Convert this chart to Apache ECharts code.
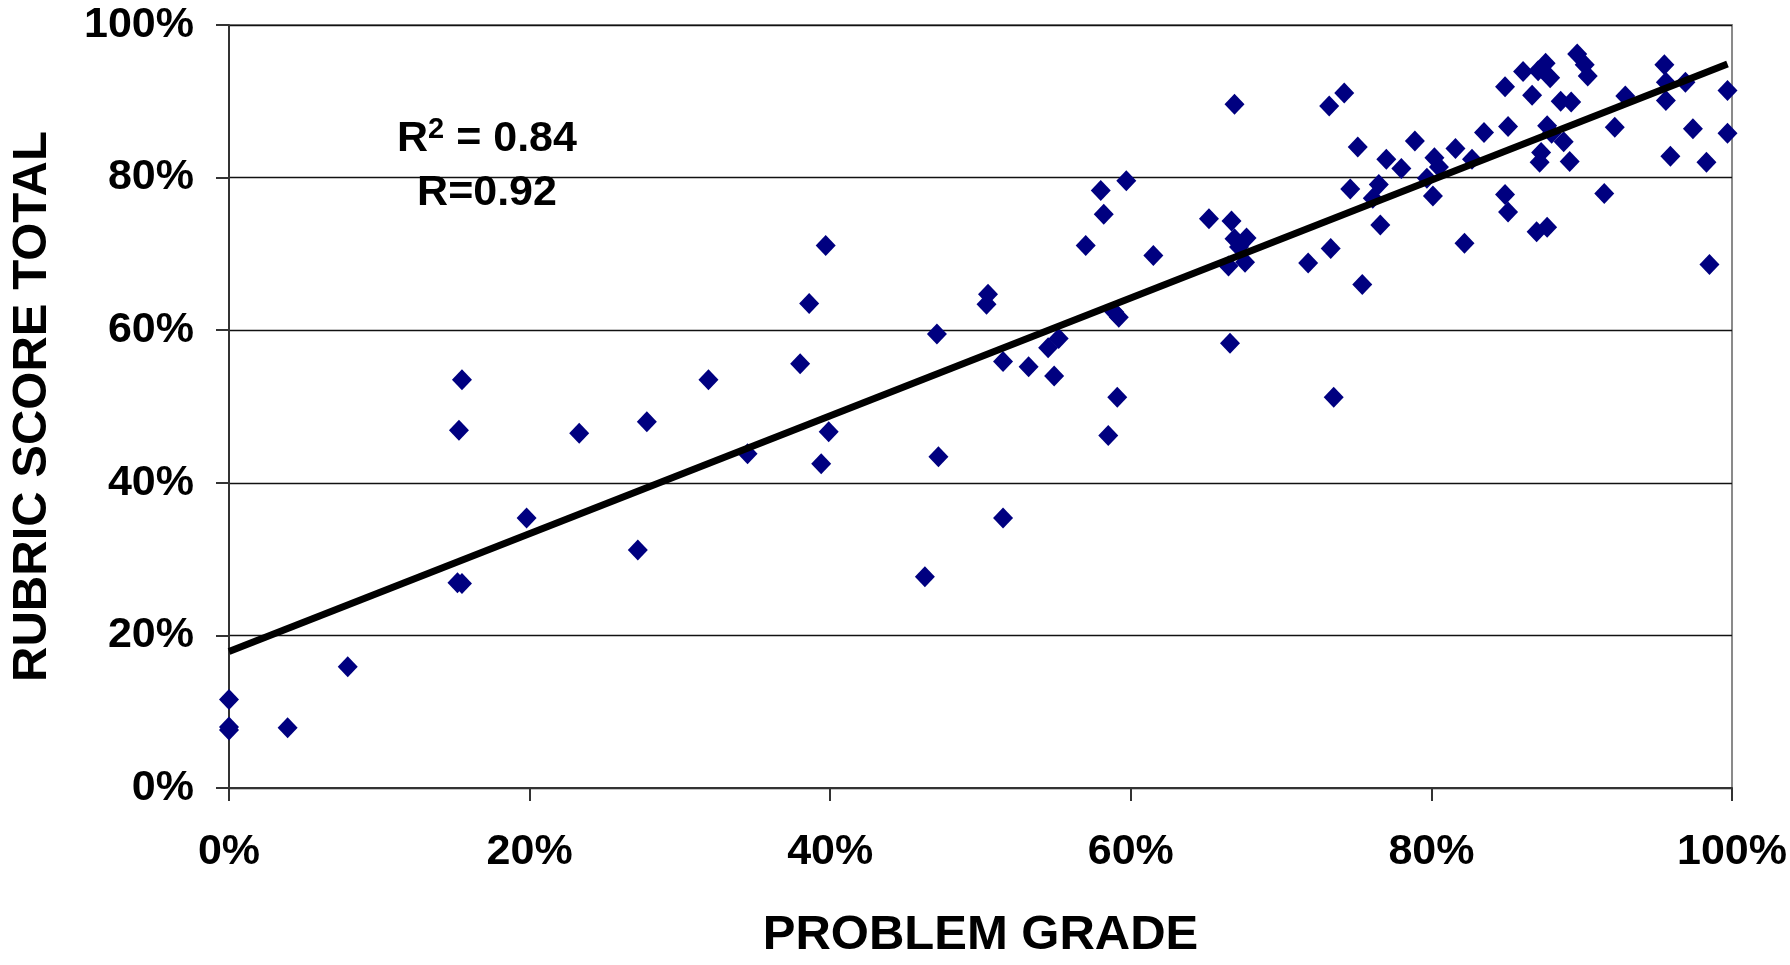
<!DOCTYPE html>
<html>
<head>
<meta charset="utf-8">
<script src="https://cdn.jsdelivr.net/npm/echarts@6/dist/echarts.min.js"></script>
<style>
html,body{margin:0;padding:0;background:#fff;}
#chart{width:1790px;height:965px;}
</style>
</head>
<body>
<div id="chart"></div>
<script>
// Problem grade (%) for each student
const problemGrade = [
  0, 0, 0, 3.9, 7.9, 15.3, 15.5, 15.2, 15.5, 19.8,
  23.3, 27.2, 27.8, 31.9, 34.5, 38.0, 38.6, 39.7, 39.4, 39.9,
  46.3, 47.1, 47.2, 50.5, 50.4, 51.5, 51.5, 53.2, 54.5, 54.9,
  55.2, 57.0, 58.0, 58.2, 58.5, 58.9, 59.2, 59.1, 59.7, 61.5,
  65.2, 66.7, 66.9, 66.9, 67.2, 66.5, 66.6, 67.7, 67.6, 71.8,
  73.3, 73.2, 74.2, 73.5, 74.6, 75.1, 75.4, 76.1, 76.5, 76.6,
  77.0, 78.0, 78.9, 79.7, 80.1, 80.2, 80.5, 81.6, 82.2, 82.7,
  83.5, 84.9, 84.9, 85.1, 85.1, 86.1, 86.7, 87.0, 87.1, 87.6,
  87.2, 87.3, 87.9, 87.7, 87.7, 88.6, 88.8, 89.3, 89.2, 89.7,
  90.2, 90.4, 91.5, 92.2, 92.9, 95.5, 95.6, 95.6, 95.9, 96.9,
  97.4, 98.3, 98.5, 99.7, 99.7, 88.0
];
// Rubric score total (%) for each student
const rubricScore = [
  11.6, 8.0, 7.6, 7.9, 15.9, 46.9, 53.5, 26.9, 26.8, 35.4,
  46.5, 31.2, 48.0, 53.5, 43.8, 55.6, 63.5, 71.1, 42.5, 46.7,
  27.7, 59.5, 43.4, 64.7, 63.4, 55.9, 35.4, 55.2, 57.7, 54.0,
  58.9, 71.1, 78.3, 75.2, 46.2, 62.4, 61.7, 51.2, 79.6, 69.8,
  74.6, 74.3, 89.6, 72.0, 70.9, 68.4, 58.3, 72.1, 68.9, 68.8,
  70.7, 89.4, 91.1, 51.2, 78.5, 84.0, 66.0, 77.3, 79.1, 73.8,
  82.4, 81.2, 84.8, 79.9, 77.6, 82.6, 81.4, 83.8, 71.4, 82.4,
  85.9, 91.9, 77.8, 86.7, 75.5, 93.9, 90.8, 72.9, 94.0, 95.0,
  82.0, 83.3, 93.1, 86.8, 73.5, 90.0, 84.7, 89.9, 82.1, 96.2,
  94.8, 93.3, 77.9, 86.6, 90.7, 94.8, 90.1, 92.5, 82.8, 92.5,
  86.4, 82.0, 68.6, 91.4, 85.8, 85.8
];
// Trend line end points
const trendX = [0, 99.7];
const trendY = [17.9, 94.9];
// Axis ticks
const tickValues = [0, 20, 40, 60, 80, 100];
const xAxisTitle = 'PROBLEM GRADE';
const yAxisTitle = 'RUBRIC SCORE TOTAL';
const rSquaredText = '0.84';
const rText = 'R=0.92';

const FONT = '"Liberation Sans", Arial, sans-serif';
const points = problemGrade.map((x, i) => [x, rubricScore[i]]);
const trend = trendX.map((x, i) => [x, trendY[i]]);

const chart = echarts.init(document.getElementById('chart'), null, {renderer: 'canvas'});

const axisLabelStyle = {
  color: '#000',
  fontFamily: FONT,
  fontWeight: 'bold',
  fontSize: 43,
  formatter: '{value}%'
};

chart.setOption({
  backgroundColor: '#fff',
  animation: false,
  grid: {
    left: 228, right: 56, top: 25, bottom: 172,
    show: true, borderColor: '#8a8a8a', borderWidth: 2,
    containLabel: false
  },
  xAxis: {
    type: 'value',
    min: tickValues[0], max: tickValues[tickValues.length - 1], interval: 20,
    name: xAxisTitle,
    nameLocation: 'middle',
    nameGap: 123,
    nameTextStyle: {color: '#000', fontFamily: FONT, fontWeight: 'bold', fontSize: 49},
    axisLine: {show: true, onZero: false, lineStyle: {color: '#333', width: 2}},
    axisTick: {show: true, inside: false, length: 13, lineStyle: {color: '#333', width: 2}},
    axisLabel: Object.assign({margin: 43}, axisLabelStyle),
    splitLine: {show: false}
  },
  yAxis: {
    type: 'value',
    min: tickValues[0], max: tickValues[tickValues.length - 1], interval: 20,
    name: yAxisTitle,
    nameLocation: 'middle',
    nameGap: 172,
    nameRotate: 90,
    nameTextStyle: {color: '#000', fontFamily: FONT, fontWeight: 'bold', fontSize: 49},
    axisLine: {show: true, onZero: false, lineStyle: {color: '#333', width: 2}},
    axisTick: {show: true, inside: false, length: 13, lineStyle: {color: '#333', width: 2}},
    axisLabel: Object.assign({margin: 35}, axisLabelStyle),
    splitLine: {show: true, lineStyle: {color: '#111', width: 1.3}}
  },
  series: [
    {
      type: 'scatter',
      data: points,
      symbol: 'diamond',
      symbolSize: [20, 21],
      itemStyle: {color: '#000080', opacity: 1},
      z: 2
    },
    {
      type: 'line',
      data: trend,
      symbol: 'none',
      lineStyle: {color: '#000', width: 7},
      z: 3
    }
  ],
  graphic: [
    {
      type: 'text',
      x: 487, y: 138,
      z: 10,
      style: {
        text: '{b|R}{s|2}{b| = ' + rSquaredText + '}',
        align: 'center',
        verticalAlign: 'middle',
        rich: {
          b: {fontFamily: FONT, fontWeight: 'bold', fontSize: 43, fill: '#000', color: '#000', lineHeight: 46, verticalAlign: 'bottom'},
          s: {fontFamily: FONT, fontWeight: 'bold', fontSize: 29, fill: '#000', color: '#000', lineHeight: 46, verticalAlign: 'top', padding: [0, 0, 16, 0]}
        }
      }
    },
    {
      type: 'text',
      x: 487, y: 193,
      z: 10,
      style: {
        text: rText,
        align: 'center',
        verticalAlign: 'middle',
        fontFamily: FONT, fontWeight: 'bold', fontSize: 43, fill: '#000'
      }
    }
  ]
});
</script>
</body>
</html>
